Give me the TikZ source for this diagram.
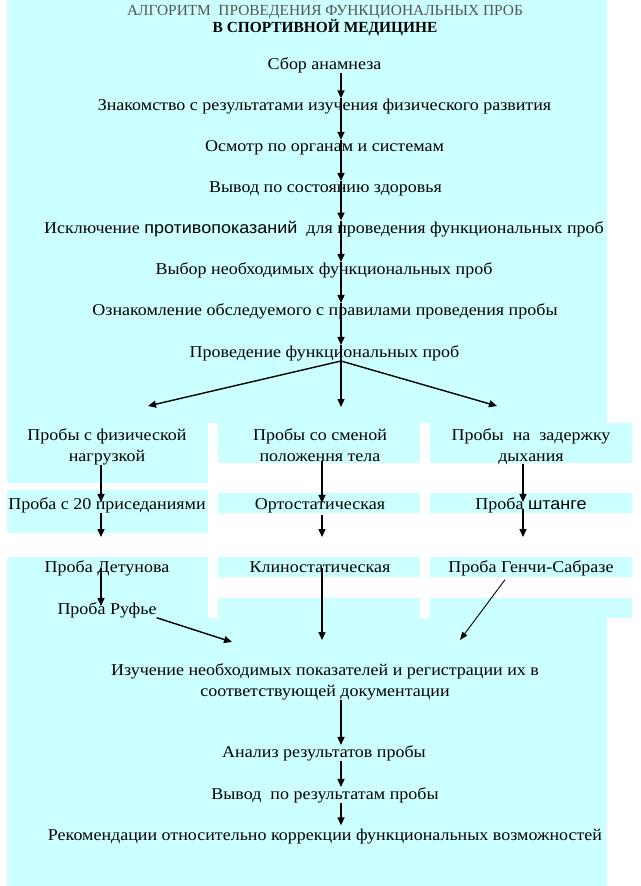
\documentclass[tikz,border=0pt]{standalone}
\usepackage{fontspec}
\setmainfont{Liberation Serif}[FakeStretch=1.09]
\newfontfamily\sansf{Liberation Sans}[FakeStretch=1.09]
\newfontfamily\ttlf{Liberation Serif}
\usetikzlibrary{arrows.meta,calc}
\definecolor{bgc}{RGB}{204,255,255}
\definecolor{ttl}{RGB}{85,85,85}
\begin{document}
\begin{tikzpicture}[x=1pt,y=-1pt,
  txt/.style={inner sep=0pt, align=center, font=\fontsize{16.5}{21}\selectfont, anchor=base},
  arr/.style={line width=1.4pt, -{Triangle[length=8pt,width=7pt]}},
  thinarr/.style={line width=0.9pt, -{Triangle[length=8pt,width=6pt]}},
  ln/.style={line width=1.4pt},
  cell/.style={fill=bgc, draw=none}]
\useasboundingbox (0,0) rectangle (640,886);
% background
\fill[bgc] (7,0) rectangle (607,886);
\fill[white] (7,423) rectangle (632,618);
\fill[cell] (7,423) rectangle (208,483);
\fill[cell] (7,490) rectangle (208,533);
\fill[cell] (7,557) rectangle (208,618);
\foreach \xa/\xb in {218/420,430/632}{
  \fill[cell] (\xa,423) rectangle (\xb,463);
  \fill[cell] (\xa,493) rectangle (\xb,513);
  \fill[cell] (\xa,557) rectangle (\xb,577);
  \fill[cell] (\xa,598) rectangle (\xb,618);
}
% axes
\coordinate (ax) at (341,0);
\coordinate (cl) at (101,0);
\coordinate (cm) at (322,0);
\coordinate (cr) at (523,0);
% titles
\node[txt, text=ttl, font=\ttlf\fontsize{15.4}{19}\selectfont] (t1) at (325,15) {АЛГОРИТМ\ \ ПРОВЕДЕНИЯ ФУНКЦИОНАЛЬНЫХ ПРОБ};
\node[txt, font=\ttlf\fontsize{15.4}{19}\selectfont\bfseries] (t2) at (325,32) {В СПОРТИВНОЙ МЕДИЦИНЕ};
% main steps
\node[txt] (s1) at (324.5,69) {Сбор анамнеза};
\node[txt] (s2) at (324.5,110) {Знакомство с результатами изучения физического развития};
\node[txt] (s3) at (324.5,151) {Осмотр по органам и системам};
\node[txt] (s4) at (325.5,192) {Вывод по состоянию здоровья};
\node[txt] (s5) at (324,233) {Исключение {\sansf противопоказаний}\ \ для проведения функциональных проб};
\node[txt] (s6) at (324,274) {Выбор необходимых функциональных проб};
\node[txt] (s7) at (325,315) {Ознакомление обследуемого с правилами проведения пробы};
\node[txt] (s8) at (324.5,357) {Проведение функциональных проб};
% columns (base = last line)
\node[txt] (h1) at (107,461) {Пробы с физической\\нагрузкой};
\node[txt] (h2) at (320,461) {Пробы со сменой\\положення тела};
\node[txt] (h3) at (531,461) {Пробы\ \ на\ \ задержку\\дыхания};
\node[txt] (r1) at (107,509) {Проба с 20 приседаниями};
\node[txt] (m1) at (320,509) {Ортостатическая};
\node[txt] (q1) at (531,509) {Проба {\sansf штанге}};
\node[txt] (r2) at (107,572) {Проба Детунова};
\node[txt] (m2) at (320,572) {Клиностатическая};
\node[txt] (q2) at (531,572) {Проба Генчи-Сабразе};
\node[txt] (ruf) at (107,614) {Проба Руфье};
% bottom
\node[txt] (izu) at (325,696) {Изучение необходимых показателей и регистрации их в\\соответствующей документации};
\node[txt] (an) at (324,757) {Анализ результатов пробы};
\node[txt] (vy) at (325,799) {Вывод\ \ по результатам пробы};
\node[txt] (rec) at (325,840) {Рекомендации относительно коррекции функциональных возможностей};
% free ends
\coordinate (sp) at (341,361);
\coordinate (e1) at (148,406);
\coordinate (e2) at (341,407);
\coordinate (e3) at (497,406);
\coordinate (el) at (101,537);
\coordinate (em) at (322,537);
\coordinate (er) at (523,537);
\coordinate (fl) at (232,642);
\coordinate (fm) at (322,640);
\coordinate (fr) at (460,640);
% main arrows
\draw[arr] (s1.south -| ax) -- (s2.north -| ax);
\draw[arr] (s2.north -| ax) -- (s3.north -| ax);
\draw[arr] (s3.north -| ax) -- (s4.north -| ax);
\draw[arr] (s4.north -| ax) -- (s5.north -| ax);
\draw[arr] (s5.north -| ax) -- (s6.north -| ax);
\draw[arr] (s6.north -| ax) -- (s7.north -| ax);
\draw[arr] (s7.north -| ax) -- (s8.north -| ax);
\draw[ln] (s8.north -| ax) -- (sp);
\draw[arr] (sp) -- (e1);
\draw[arr] (sp) -- (e2);
\draw[arr] (sp) -- (e3);
% column arrows
\draw[arr] (h1.south -| cl) -- ([yshift=-5pt]r1.north -| cl);
\draw[arr] (r1.south -| cl) -- (el);
\draw[arr] (r2.center -| cl) -- ([yshift=-4pt]ruf.north -| cl);
\draw[arr] (ruf.south east) -- (fl);
\draw[arr] (h2.south -| cm) -- ([yshift=-5pt]m1.north -| cm);
\draw[arr] ([yshift=-6pt]m1.base -| cm) -- (em);
\draw[arr] ([yshift=4pt]m2.south -| cm) -- (fm);
\draw[arr] (h3.south -| cr) -- ([yshift=-5pt]q1.north -| cr);
\draw[arr] ([yshift=4pt]q1.south -| cr) -- (er);
\draw[thinarr] ($(q2.south)+(-26,4)$) -- (fr);
% bottom arrows
\draw[arr] (izu.south -| ax) -- (an.north -| ax);
\draw[arr] (an.south -| ax) -- (vy.north -| ax);
\draw[arr] (vy.south -| ax) -- ([yshift=3pt]rec.north -| ax);
\end{tikzpicture}
\end{document}
